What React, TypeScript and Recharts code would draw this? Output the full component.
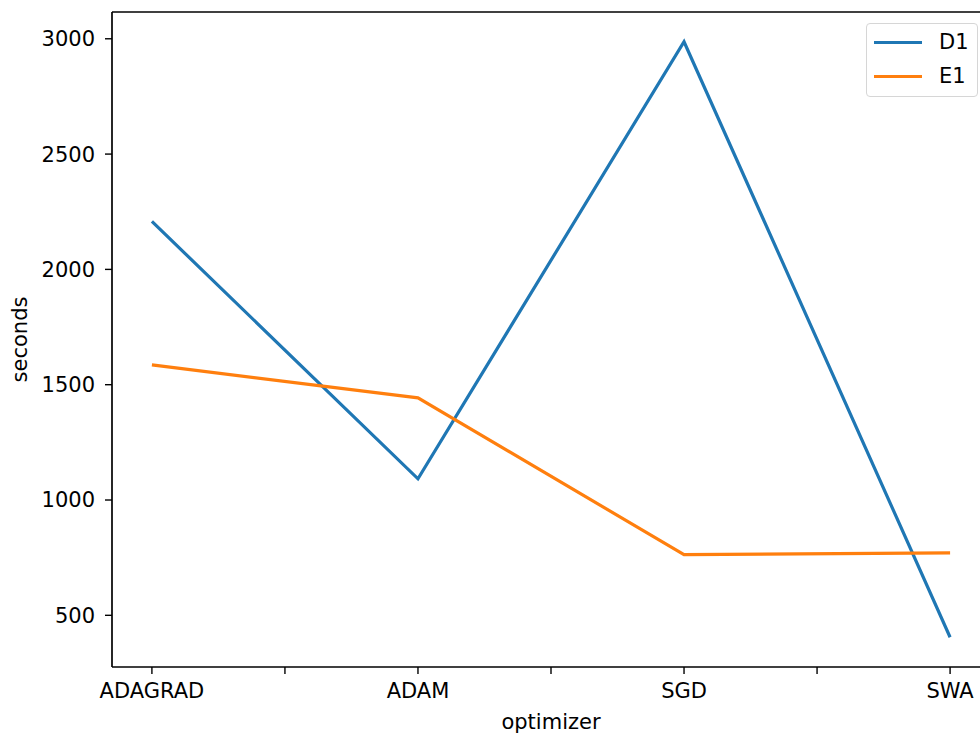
import React from 'react';
import { LineChart, Line, XAxis, YAxis, Legend, ReferenceLine } from 'recharts';

const optimizers = ['ADAGRAD', 'ADAM', 'SGD', 'SWA'];
const d1Seconds = [2208, 1092, 2987, 405];
const e1Seconds = [1586, 1443, 763, 771];
const yTicks = [500, 1000, 1500, 2000, 2500, 3000];
const xTicks = [0, 0.5, 1, 1.5, 2, 2.5, 3];

const FONT = '"DejaVu Sans", sans-serif';
const BLUE = '#1f77b4';
const ORANGE = '#ff7f0e';

const chartData = optimizers.map((name, i) => ({
    x: i,
    name,
    D1: d1Seconds[i],
    E1: e1Seconds[i]
}));

// matplotlib-style 5% padding around the data
const allValues = [...d1Seconds, ...e1Seconds];
const yMin = Math.min(...allValues);
const yMax = Math.max(...allValues);
const yPad = (yMax - yMin) * 0.05;
const yDomain = [yMin - yPad, yMax + yPad];
const xDomain = [-0.15, optimizers.length - 1 + 0.15];

const tickStyle = { fill: '#000', fontSize: 21, fontFamily: FONT };
const axisLine = { stroke: '#000', strokeWidth: 1.7 };

const LegendBox = () => (
    <div
        style={{
            width: 110,
            height: 72,
            border: '1px solid #d6d6d6',
            borderRadius: 4,
            background: 'rgba(255,255,255,0.8)',
            fontFamily: FONT,
            fontSize: 21,
            color: '#000',
            position: 'relative'
        }}
    >
        {[
            { label: 'D1', color: BLUE, top: 18 },
            { label: 'E1', color: ORANGE, top: 52 }
        ].map(item => (
            <div key={item.label}>
                <div
                    style={{
                        position: 'absolute',
                        left: 7,
                        top: item.top - 1.5,
                        width: 48,
                        height: 3,
                        background: item.color
                    }}
                />
                <div
                    style={{
                        position: 'absolute',
                        left: 72,
                        top: item.top - 13,
                        lineHeight: '26px'
                    }}
                >
                    {item.label}
                </div>
            </div>
        ))}
    </div>
);

const App: React.FC = () => {
    return (
        <div style={{ position: 'absolute', left: 0, top: 0, width: 980, height: 733, overflow: 'hidden', background: '#fff' }}>
            <LineChart width={1000} height={733} data={chartData} margin={{ top: 12, right: 10, bottom: 0, left: 0 }}>
                <XAxis
                    dataKey="x"
                    type="number"
                    domain={xDomain}
                    ticks={xTicks}
                    allowDataOverflow
                    interval={0}
                    tickFormatter={(v: number) => (Number.isInteger(v) ? optimizers[v] : '')}
                    tick={tickStyle}
                    tickSize={7}
                    tickMargin={9}
                    tickLine={{ stroke: '#000', strokeWidth: 1.4 }}
                    axisLine={axisLine}
                    height={66}
                    label={{ value: 'optimizer', position: 'insideBottom', offset: 4, fill: '#000', fontSize: 21, fontFamily: FONT }}
                />
                <YAxis
                    type="number"
                    domain={yDomain}
                    ticks={yTicks}
                    allowDataOverflow
                    interval={0}
                    tick={tickStyle}
                    tickSize={7}
                    tickMargin={10}
                    tickLine={{ stroke: '#000', strokeWidth: 1.4 }}
                    axisLine={axisLine}
                    width={112}
                    label={{
                        value: 'seconds',
                        angle: -90,
                        position: 'insideLeft',
                        offset: 20,
                        fill: '#000',
                        fontSize: 21,
                        fontFamily: FONT,
                        style: { textAnchor: 'middle' }
                    }}
                />
                {/* top spine */}
                <ReferenceLine y={yDomain[1]} stroke="#000" strokeWidth={1.7} ifOverflow="visible" />
                <Legend
                    layout="vertical"
                    align="center"
                    verticalAlign="middle"
                    content={() => <LegendBox />}
                    wrapperStyle={{ left: 866, top: 23, width: 112, height: 74 }}
                />
                <Line type="linear" dataKey="D1" stroke={BLUE} strokeWidth={3.2} dot={false} isAnimationActive={false} />
                <Line type="linear" dataKey="E1" stroke={ORANGE} strokeWidth={3.2} dot={false} isAnimationActive={false} />
            </LineChart>
        </div>
    );
};

export default App;
